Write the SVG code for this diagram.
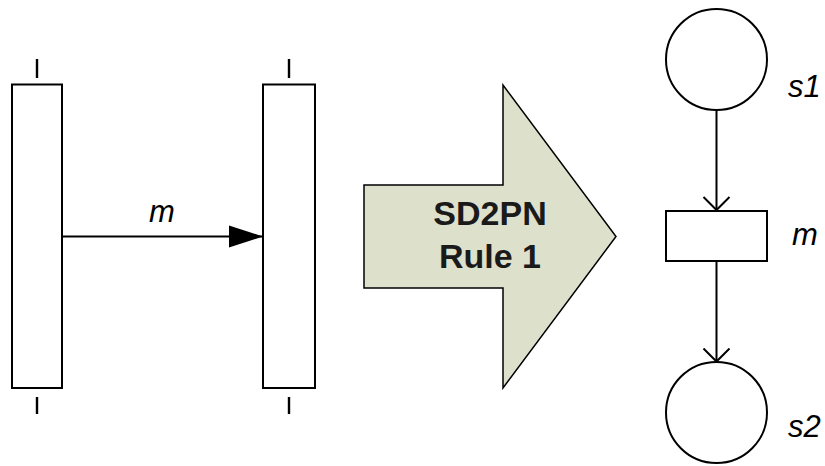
<svg xmlns="http://www.w3.org/2000/svg" width="825" height="466" viewBox="0 0 825 466">
  <style>
    .bar { fill: #ffffff; stroke: #000000; stroke-width: 2; }
    .tick { stroke: #000000; stroke-width: 2.4; }
    .pn { fill: #ffffff; stroke: #000000; stroke-width: 2; }
    .edge { fill: none; stroke: #000000; stroke-width: 2; }
    .lbl { font-family: "Liberation Sans", Arial, sans-serif; font-style: italic; font-size: 31px; fill: #000000; }
    .rule { font-family: "Liberation Sans", Arial, sans-serif; font-weight: bold; font-size: 34px; fill: #1a1a1a; text-anchor: middle; }
  </style>
  <defs>
    <marker id="solidHead" markerUnits="userSpaceOnUse" markerWidth="36" markerHeight="26" refX="34" refY="12" orient="auto">
      <path d="M0,1 L34,12 L0,23 Z" fill="#000000"/>
    </marker>
    <marker id="openHead" markerUnits="userSpaceOnUse" markerWidth="18" markerHeight="30" refX="14" refY="14" orient="auto">
      <path d="M1,1 L14,14 L1,27" fill="none" stroke="#000000" stroke-width="2"/>
    </marker>
  </defs>

  <!-- sequence diagram: sender lifeline -->
  <g id="lifeline-sender">
    <line class="tick" x1="37" y1="59" x2="37" y2="78"/>
    <rect class="bar" x="12" y="84.5" width="50" height="303.5"/>
    <line class="tick" x1="37" y1="397" x2="37" y2="414"/>
  </g>

  <!-- sequence diagram: receiver lifeline -->
  <g id="lifeline-receiver">
    <line class="tick" x1="289" y1="59" x2="289" y2="78"/>
    <rect class="bar" x="263" y="84.5" width="52" height="303.5"/>
    <line class="tick" x1="289" y1="397" x2="289" y2="414"/>
  </g>

  <!-- transformation arrow -->
  <g id="rule-arrow">
    <path d="M364,185 L503,185 L503,85 L616,236.5 L503,388 L503,288 L364,288 Z" fill="#dde1cc" stroke="#000000" stroke-width="1.5" stroke-linejoin="miter"/>
    <text class="rule" x="490" y="225">SD2PN</text>
    <text class="rule" x="490" y="268">Rule 1</text>
  </g>

  <!-- Petri net: places and transition -->
  <g id="place-s1">
    <circle class="pn" cx="716.5" cy="59.5" r="50.5"/>
    <text class="lbl" x="788" y="97">s1</text>
  </g>
  <g id="transition-m">
    <rect class="pn" x="666" y="211" width="101" height="50"/>
    <text class="lbl" x="792" y="245">m</text>
  </g>
  <g id="place-s2">
    <circle class="pn" cx="716.5" cy="412.5" r="50.5"/>
    <text class="lbl" x="788" y="437">s2</text>
  </g>

  <!-- connectors -->
  <g id="connectors">
    <line class="edge" x1="62" y1="236.5" x2="263" y2="236.5" marker-end="url(#solidHead)"/>
    <text class="lbl" x="149" y="222">m</text>
    <line class="edge" x1="716.5" y1="110" x2="716.5" y2="210" marker-end="url(#openHead)"/>
    <line class="edge" x1="716.5" y1="261" x2="716.5" y2="361.5" marker-end="url(#openHead)"/>
  </g>
</svg>
